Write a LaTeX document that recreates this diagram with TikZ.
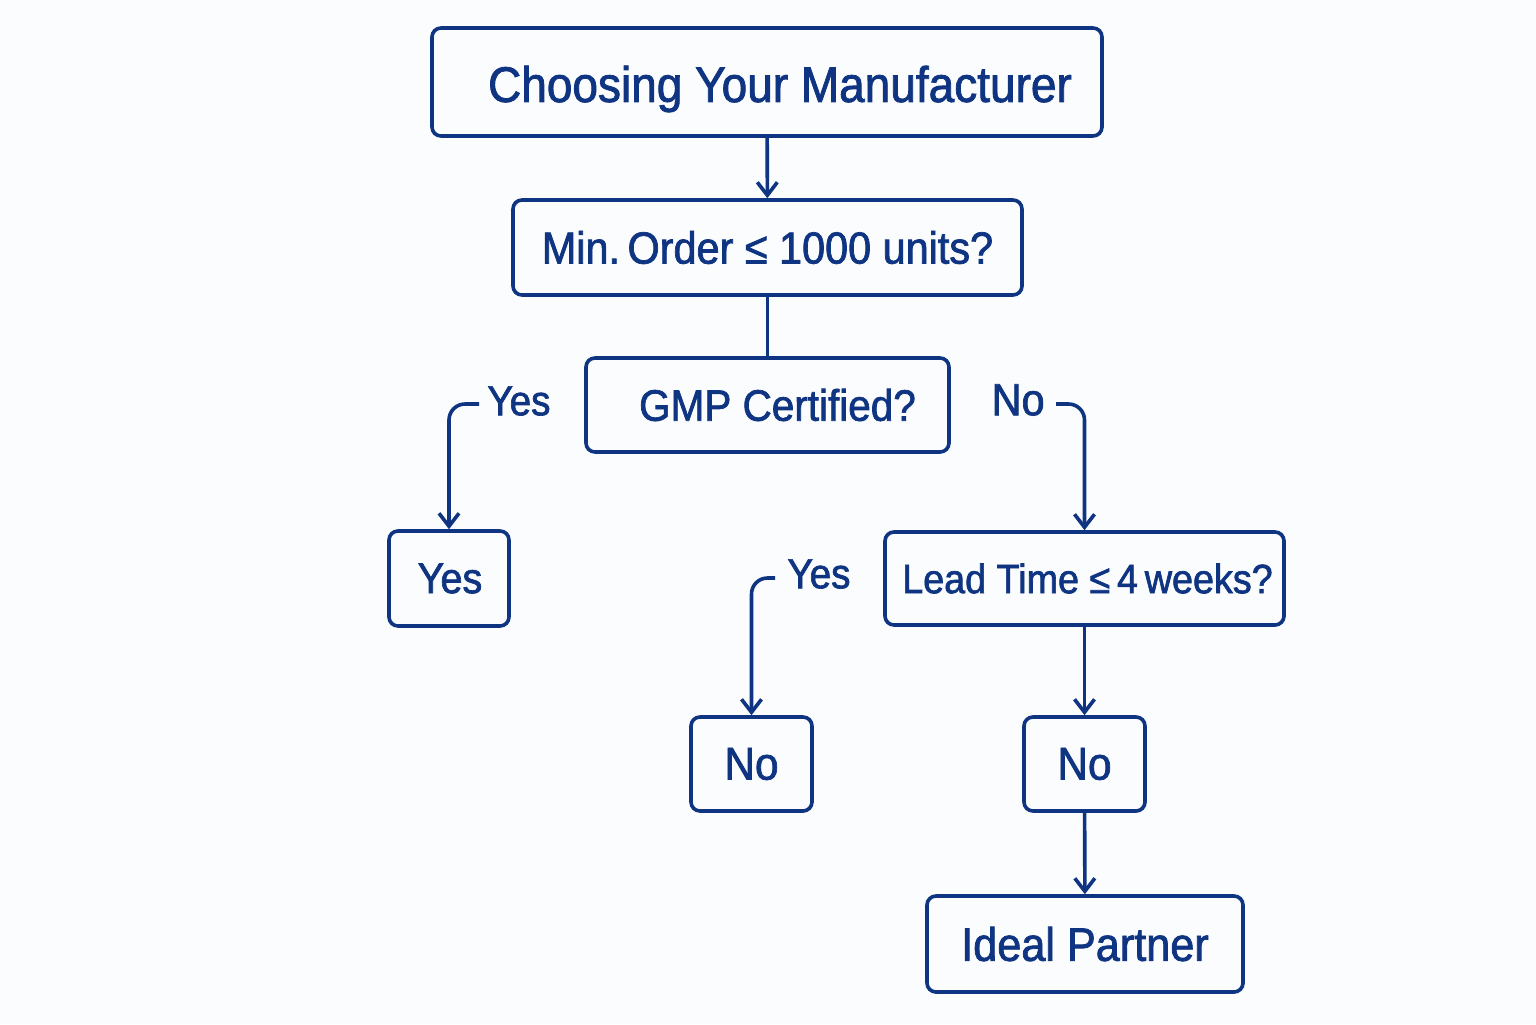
\documentclass[tikz,border=0pt]{standalone}
\usepackage{fontspec}
\setmainfont{Liberation Sans}[FakeStretch=0.92,FakeBold=1.6]
\usetikzlibrary{arrows.meta}
\definecolor{navy}{RGB}{14,52,130}
\definecolor{bg}{RGB}{251,252,253}
\newcommand{\dn}[2]{\raisebox{-#1}[\height][\depth]{#2}}
\begin{document}
\begin{tikzpicture}[x=0.5pt,y=-0.5pt,
  box/.style={draw=navy,line width=1.8pt,rounded corners=4.5pt,text=navy,inner sep=0pt,anchor=center},
  lbl/.style={text=navy,inner sep=0pt,font=\fontsize{21}{24}\selectfont},
  conn/.style={draw=navy,line width=1.8pt},
  arr/.style={conn,-{Straight Barb[length=6.5pt,width=10pt,line width=1.8pt]}}]
\fill[bg] (0,0) rectangle (1536,1024);
\useasboundingbox (0,0) rectangle (1536,1024);
\node[box,minimum width=335pt,minimum height=54pt,font=\fontsize{25}{28}\selectfont] (title) at (767,82) {\dn{3.5pt}{\hspace{13pt}Choosing Your Manufacturer}};
\node[box,minimum width=254.5pt,minimum height=47.5pt,font=\fontsize{22.5}{26}\selectfont] (moq) at (767.5,247.5) {Min.\,Order ≤ 1000 units?};
\node[box,minimum width=181.5pt,minimum height=47pt,font=\fontsize{22}{26}\selectfont] (gmp) at (767.5,405) {\hspace{10pt}GMP Certified?};
\node[box,minimum width=60pt,minimum height=47.5pt,font=\fontsize{21.5}{24}\selectfont] (yesbox) at (449,578.5) {\hspace{1pt}Yes};
\node[box,minimum width=199.5pt,minimum height=46.5pt,font=\fontsize{20.5}{24}\selectfont] (lead) at (1084.5,578.5) {\hspace{3pt}Lead Time ≤\,4\,weeks?};
\node[box,minimum width=60.5pt,minimum height=47pt,font=\fontsize{23}{26}\selectfont] (nobox1) at (751.5,764) {No};
\node[box,minimum width=60.5pt,minimum height=47pt,font=\fontsize{23}{26}\selectfont] (nobox2) at (1084.5,764) {No};
\node[box,minimum width=158pt,minimum height=48pt,font=\fontsize{23.5}{26}\selectfont] (ideal) at (1085,944) {Ideal Partner};
\node[lbl,anchor=west] (yes1) at (479,401) {\hspace{4pt}Yes};
\node[lbl,anchor=east,font=\fontsize{22.5}{26}\selectfont,inner xsep=5.5pt] (no1) at (1056,400) {No};
\node[lbl,anchor=west] (yes2) at (775,574) {\hspace{6pt}Yes};
\draw[arr] (title) -- (moq);
\draw[conn] (moq) -- (gmp);
\draw[arr,rounded corners=8pt] ([yshift=-1.5pt]yes1.west) -| (yesbox.north);
\draw[arr,rounded corners=8pt] ([yshift=-2pt]no1.east) -| (lead.north);
\draw[arr,rounded corners=8pt] ([yshift=-2pt]yes2.west) -| (nobox1.north);
\draw[arr] (lead) -- (nobox2);
\draw[arr] (nobox2) -- (ideal);
\end{tikzpicture}
\end{document}
